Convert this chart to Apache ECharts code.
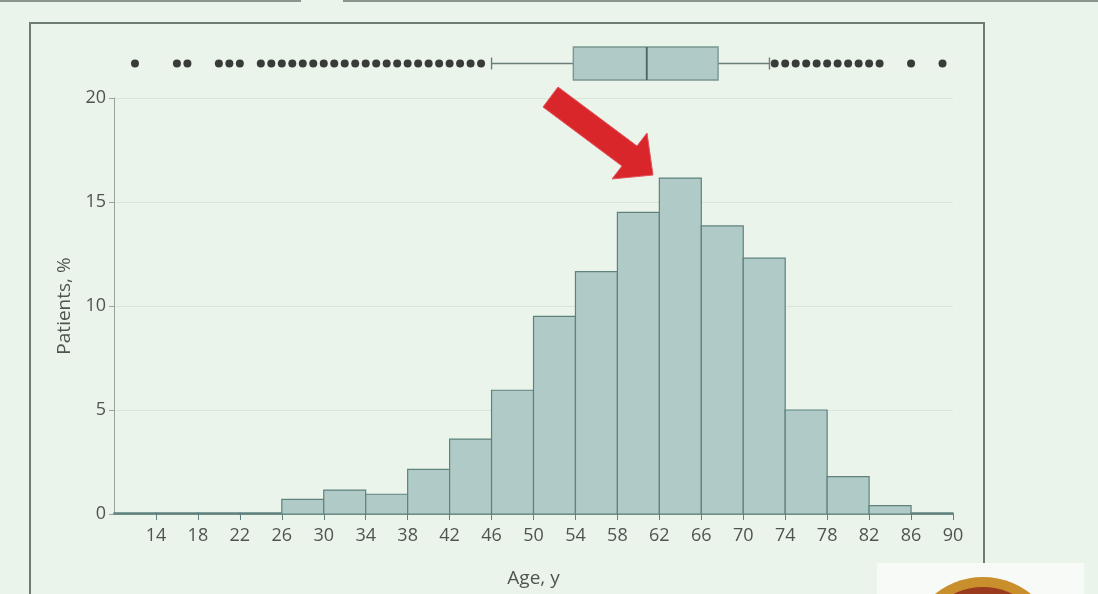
<!DOCTYPE html>
<html>
<head>
<meta charset="utf-8">
<script src="https://cdn.jsdelivr.net/npm/echarts@6/dist/echarts.min.js"></script>
<style>
  html, body { margin: 0; padding: 0; background: #eaf4eb; }
  #chart { width: 1098px; height: 594px; }
</style>
</head>
<body>
<div id="chart"></div>
<script>
// histogram bins (start age, 4-year width) and share of patients
const binStarts = [10, 14, 18, 22, 26, 30, 34, 38, 42, 46, 50, 54, 58, 62, 66, 70, 74, 78, 82, 86];
const binWidth = 4;
const patientPct = [0.05, 0.05, 0.05, 0.05, 0.7, 1.15, 0.95, 2.15, 3.6, 5.95, 9.5, 11.65, 14.5, 16.15, 13.85, 12.3, 5.0, 1.8, 0.4, 0.05];

// box plot summary: low whisker, Q1, median, Q3, high whisker
const boxStats = [46, 53.8, 60.8, 67.6, 72.5];
const outliers = [12, 16, 17, 20, 21, 22,
  24, 25, 26, 27, 28, 29, 30, 31, 32, 33, 34, 35, 36, 37, 38, 39, 40, 41, 42, 43, 44, 45,
  73, 74, 75, 76, 77, 78, 79, 80, 81, 82, 83, 86, 89];

const ageTicks = [14, 18, 22, 26, 30, 34, 38, 42, 46, 50, 54, 58, 62, 66, 70, 74, 78, 82, 86, 90];

const barFill = '#afcac7';
const barEdge = '#5f827e';
const textGray = '#505451';
const font = 'Open Sans';

const myChart = echarts.init(document.getElementById('chart'));

const histData = binStarts.map((s, i) => [s, s + binWidth, patientPct[i]]);

const option = {
  backgroundColor: '#eaf4eb',
  animation: false,
  textStyle: { fontFamily: font },
  grid: [
    { left: 114, right: 145, top: 98, bottom: 80 },
    { left: 114, right: 145, top: 47, height: 33 }
  ],
  xAxis: [
    {
      type: 'value',
      gridIndex: 0,
      min: 10,
      max: 90,
      name: 'Age, y',
      nameLocation: 'middle',
      nameGap: 55,
      nameTextStyle: { color: textGray, fontSize: 19, fontFamily: font },
      axisLine: { show: true, lineStyle: { color: barEdge, width: 1.5 } },
      axisTick: { show: true, length: 6, customValues: ageTicks, lineStyle: { color: barEdge } },
      axisLabel: { customValues: ageTicks, color: textGray, fontSize: 18, margin: 13, fontFamily: font },
      splitLine: { show: false }
    },
    {
      type: 'value',
      gridIndex: 1,
      min: 10,
      max: 90,
      show: false
    }
  ],
  yAxis: [
    {
      type: 'value',
      gridIndex: 0,
      min: 0,
      max: 20,
      interval: 5,
      name: 'Patients, %',
      nameLocation: 'middle',
      nameGap: 40,
      nameTextStyle: { color: textGray, fontSize: 19, fontFamily: font },
      axisLine: { show: true, lineStyle: { color: '#9aa39c', width: 1 } },
      axisTick: { show: true, length: 5, lineStyle: { color: '#9aa39c' } },
      axisLabel: { color: textGray, fontSize: 18, margin: 8, fontFamily: font },
      splitLine: { show: true, lineStyle: { color: '#d9e5da', width: 1 } }
    },
    {
      type: 'category',
      gridIndex: 1,
      data: ['age'],
      show: false
    }
  ],
  series: [
    {
      type: 'custom',
      name: 'Patients',
      xAxisIndex: 0,
      yAxisIndex: 0,
      encode: { x: [0, 1], y: 2 },
      data: histData,
      renderItem: function (params, api) {
        const p0 = api.coord([api.value(0), api.value(2)]);
        const p1 = api.coord([api.value(1), 0]);
        return {
          type: 'rect',
          shape: { x: p0[0], y: p0[1], width: p1[0] - p0[0], height: p1[1] - p0[1] },
          style: { fill: barFill, stroke: barEdge, lineWidth: 1.2 }
        };
      },
      z: 3
    },
    {
      type: 'custom',
      name: 'Box',
      xAxisIndex: 1,
      yAxisIndex: 1,
      encode: { x: [1, 2, 3, 4, 5], y: 0 },
      data: [[0].concat(boxStats)],
      renderItem: function (params, api) {
        const yc = api.coord([api.value(1), 0])[1];
        const h = api.size([0, 1])[1];
        const xs = [1, 2, 3, 4, 5].map(d => api.coord([api.value(d), 0])[0]);
        const line = { stroke: '#6b7d79', lineWidth: 1.4 };
        return {
          type: 'group',
          children: [
            { type: 'line', shape: { x1: xs[0], y1: yc, x2: xs[1], y2: yc }, style: line },
            { type: 'line', shape: { x1: xs[3], y1: yc, x2: xs[4], y2: yc }, style: line },
            { type: 'line', shape: { x1: xs[0], y1: yc - 6, x2: xs[0], y2: yc + 6 }, style: line },
            { type: 'line', shape: { x1: xs[4], y1: yc - 6, x2: xs[4], y2: yc + 6 }, style: line },
            { type: 'rect', shape: { x: xs[1], y: yc - h / 2, width: xs[3] - xs[1], height: h },
              style: { fill: barFill, stroke: '#7b9693', lineWidth: 1.4 } },
            { type: 'line', shape: { x1: xs[2], y1: yc - h / 2, x2: xs[2], y2: yc + h / 2 },
              style: { stroke: '#4a6561', lineWidth: 1.8 } }
          ]
        };
      },
      z: 3
    },
    {
      type: 'scatter',
      name: 'Outliers',
      xAxisIndex: 1,
      yAxisIndex: 1,
      data: outliers.map(a => [a, 0]),
      symbol: 'circle',
      symbolSize: 8,
      itemStyle: { color: '#0c0c0c' },
      z: 4
    }
  ],
  graphic: [
    // slide frame around the figure
    { type: 'rect', shape: { x: 30, y: 23, width: 954, height: 600 },
      style: { fill: 'none', stroke: '#6e7c73', lineWidth: 2 }, z: 1, silent: true },
    { type: 'line', shape: { x1: 0, y1: 1, x2: 301, y2: 1 }, style: { stroke: '#8a968d', lineWidth: 2 }, silent: true },
    { type: 'line', shape: { x1: 343, y1: 1, x2: 1098, y2: 1 }, style: { stroke: '#8a968d', lineWidth: 2 }, silent: true },
    // red pointer arrow
    { type: 'polygon', z: 10, silent: true,
      shape: { points: [[558, 87], [637, 146], [647, 133], [653, 175], [612, 179], [622, 166], [543, 107]] },
      style: { fill: '#d8262b', stroke: '#e2555a', lineWidth: 1 } },
    // seal in the lower right corner
    { type: 'rect', shape: { x: 877, y: 563, width: 207, height: 40 }, style: { fill: '#f7faf7' }, z: 5, silent: true },
    { type: 'circle', shape: { cx: 983, cy: 653, r: 76 }, style: { fill: '#c98f2c' }, z: 6, silent: true },
    { type: 'circle', shape: { cx: 983, cy: 653, r: 66 }, style: { fill: '#9a3b1e' }, z: 6, silent: true }
  ]
};

myChart.setOption(option);
window.onresize = function () {
  myChart.resize();
};
</script>
</body>
</html>
